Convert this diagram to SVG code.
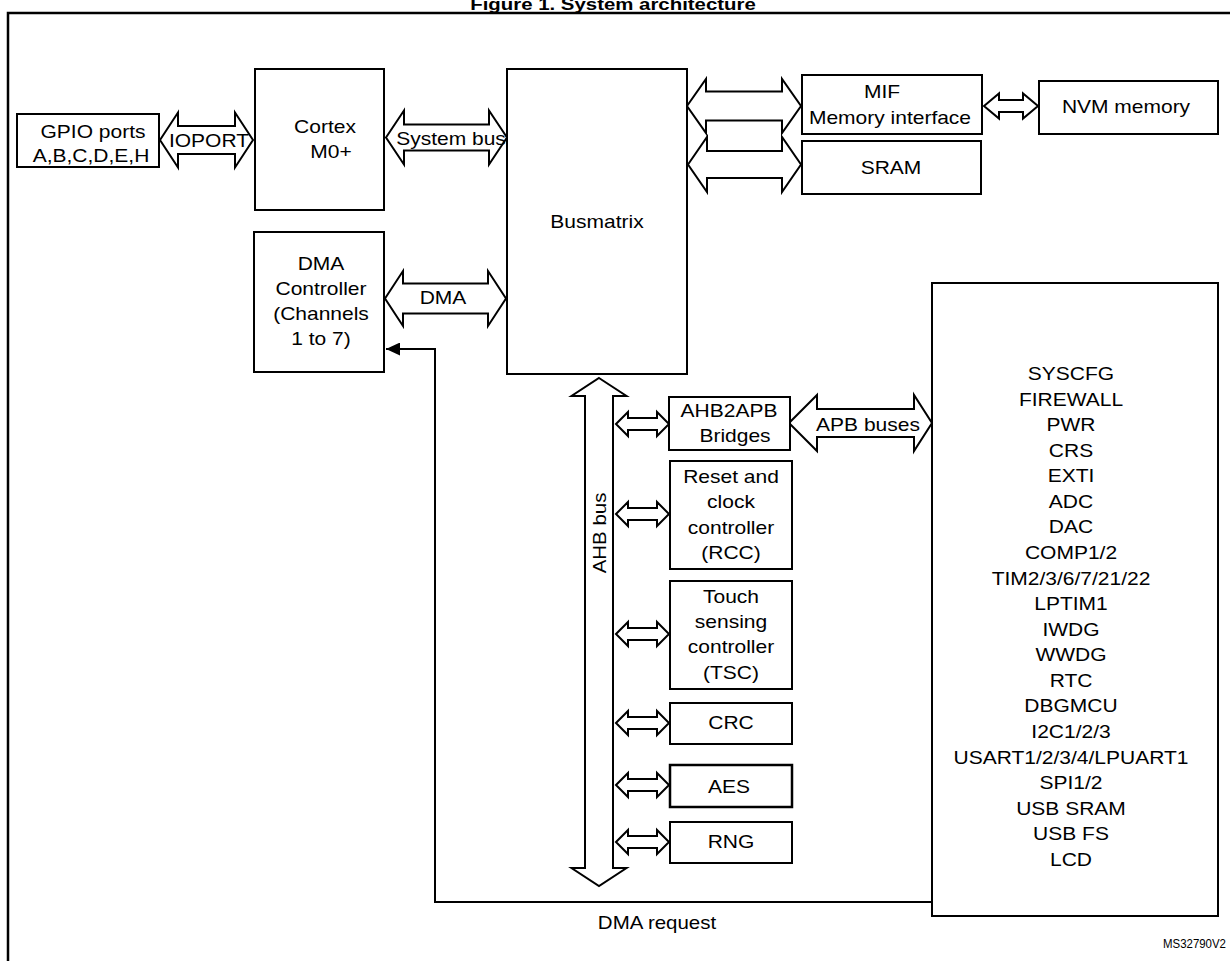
<svg xmlns="http://www.w3.org/2000/svg" xmlns:xlink="http://www.w3.org/1999/xlink" width="1230" height="961" viewBox="0 0 1230 961">
<style>
.box{fill:#fff;stroke:#000;stroke-width:2}
.bus{fill:#fff;stroke:#000;stroke-width:2;stroke-linejoin:miter}
.t{font-family:"Liberation Sans",Arial,sans-serif;font-size:17.5px;text-anchor:middle;fill:#000}
.title{font-family:"Liberation Sans",Arial,sans-serif;font-size:17px;font-weight:bold;text-anchor:middle;fill:#000}
.line{fill:none;stroke:#000;stroke-width:2}
</style>
<defs>
<polygon id="sa" class="bus" points="0,0 12,-12 12,-6 41,-6 41,-12 53,0 41,12 41,6 12,6 12,12"/>
<marker id="ah" markerUnits="userSpaceOnUse" viewBox="0 0 14 13" refX="14" refY="6.5" markerWidth="14" markerHeight="13" orient="auto">
<path d="M0,0 L14,6.5 L0,13 z" fill="#000"/>
</marker>
</defs>
<rect width="1230" height="961" fill="#fff"/>
<text class="title" transform="matrix(1.2 0 0 1 613 0)" y="10">Figure 1. System architecture</text>
<path d="M8,975 V13 H1240" fill="none" stroke="#000" stroke-width="2.5"/>

<g id="connectors">
<polygon class="bus" points="160,140 178,112.5 178,126 235,126 235,112.5 253,140 235,167.5 235,154 178,154 178,167.5"/>
<polygon class="bus" points="386,137.5 404,110.5 404,124.5 489,124.5 489,110.5 507,137.5 489,164.5 489,150.5 404,150.5 404,164.5"/>
<polygon class="bus" points="687,106 706,79 706,91.5 782,91.5 782,79 801,106 782,133 782,120.5 706,120.5 706,133"/>
<polygon class="bus" points="688,164.5 707,137 707,151 782,151 782,137 801,164.5 782,192 782,178 707,178 707,192"/>
<polygon class="bus" points="984,106 999,93.5 999,100 1023,100 1023,93.5 1038,106 1023,118.5 1023,112 999,112 999,118.5"/>
<polygon class="bus" points="385,298.5 403,271 403,283.5 488,283.5 488,271 506,298.5 488,326 488,313.5 403,313.5 403,326"/>
<polygon class="bus" points="789,423 817,395 817,409 914,409 914,395 932,423 914,451 914,437 817,437 817,451"/>
<polygon class="bus" points="599,378 626.5,396 613,396 613,868 626.5,868 599,886 571.5,868 585,868 585,396 571.5,396"/>
<use xlink:href="#sa" x="616" y="424"/>
<use xlink:href="#sa" x="616" y="514"/>
<use xlink:href="#sa" x="616" y="634"/>
<use xlink:href="#sa" x="616" y="723"/>
<use xlink:href="#sa" x="616" y="785"/>
<use xlink:href="#sa" x="616" y="842"/>
<polyline class="line" points="932,902 435,902 435,349 386,349" marker-end="url(#ah)"/>
<text class="t" transform="matrix(1.2 0 0 1 209 0)" y="147">IOPORT</text>
<text class="t" transform="matrix(1.2 0 0 1 451 0)" y="145">System bus</text>
<text class="t" transform="matrix(1.2 0 0 1 443 0)" y="304">DMA</text>
<text class="t" transform="matrix(1.2 0 0 1 868 0)" y="431">APB buses</text>
<text class="t" transform="translate(0 533) rotate(-90) scale(1.17 1)" y="606">AHB bus</text>
<text class="t" transform="matrix(1.17 0 0 1 657 0)" y="929">DMA request</text>
</g>

<g id="gpio">
<rect class="box" x="17" y="114" width="142" height="53"/>
<text class="t" transform="matrix(1.2 0 0 1 93 0)" y="138">GPIO ports</text>
<text class="t" transform="matrix(1.2 0 0 1 91 0)" y="162">A,B,C,D,E,H</text>
</g>

<g id="cortex">
<rect class="box" x="255" y="69" width="129" height="141"/>
<text class="t" transform="matrix(1.2 0 0 1 325 0)" y="133">Cortex</text>
<text class="t" transform="matrix(1.2 0 0 1 331 0)" y="158">M0+</text>
</g>

<g id="dma">
<rect class="box" x="254" y="232" width="130" height="140"/>
<text class="t" transform="matrix(1.2 0 0 1 321 0)" y="270">DMA</text>
<text class="t" transform="matrix(1.2 0 0 1 321 0)" y="295">Controller</text>
<text class="t" transform="matrix(1.2 0 0 1 321 0)" y="320">(Channels</text>
<text class="t" transform="matrix(1.2 0 0 1 321 0)" y="345">1 to 7)</text>
</g>

<g id="busmatrix">
<rect class="box" x="507" y="69" width="180" height="305"/>
<text class="t" transform="matrix(1.2 0 0 1 597 0)" y="228">Busmatrix</text>
</g>

<g id="mif">
<rect class="box" x="802" y="75" width="180" height="59"/>
<text class="t" transform="matrix(1.2 0 0 1 882 0)" y="98">MIF</text>
<text class="t" transform="matrix(1.2 0 0 1 890 0)" y="124">Memory interface</text>
</g>

<g id="sram">
<rect class="box" x="802" y="141" width="179" height="53"/>
<text class="t" transform="matrix(1.2 0 0 1 891 0)" y="174">SRAM</text>
</g>

<g id="nvm">
<rect class="box" x="1039" y="81" width="179" height="53"/>
<text class="t" transform="matrix(1.2 0 0 1 1126 0)" y="113">NVM memory</text>
</g>

<g id="ahb2apb">
<rect class="box" x="669" y="397" width="121" height="53"/>
<text class="t" transform="matrix(1.2 0 0 1 729 0)" y="417">AHB2APB</text>
<text class="t" transform="matrix(1.2 0 0 1 735 0)" y="442">Bridges</text>
</g>

<g id="rcc">
<rect class="box" x="670" y="461" width="122" height="108"/>
<text class="t" transform="matrix(1.2 0 0 1 731 0)" y="483">Reset and</text>
<text class="t" transform="matrix(1.2 0 0 1 731 0)" y="508">clock</text>
<text class="t" transform="matrix(1.2 0 0 1 731 0)" y="534">controller</text>
<text class="t" transform="matrix(1.2 0 0 1 731 0)" y="559">(RCC)</text>
</g>

<g id="tsc">
<rect class="box" x="670" y="581" width="122" height="108"/>
<text class="t" transform="matrix(1.2 0 0 1 731 0)" y="603">Touch</text>
<text class="t" transform="matrix(1.2 0 0 1 731 0)" y="628">sensing</text>
<text class="t" transform="matrix(1.2 0 0 1 731 0)" y="653">controller</text>
<text class="t" transform="matrix(1.2 0 0 1 731 0)" y="679">(TSC)</text>
</g>

<g id="crc">
<rect class="box" x="670" y="703" width="122" height="41"/>
<text class="t" transform="matrix(1.2 0 0 1 731 0)" y="729">CRC</text>
</g>

<g id="aes">
<rect class="box" x="670" y="765" width="122" height="42" style="stroke-width:2.5"/>
<text class="t" transform="matrix(1.2 0 0 1 729 0)" y="793">AES</text>
</g>

<g id="rng">
<rect class="box" x="670" y="822" width="122" height="41"/>
<text class="t" transform="matrix(1.2 0 0 1 731 0)" y="848">RNG</text>
</g>

<g id="peripherals">
<rect class="box" x="932" y="283" width="286" height="633"/>
<text class="t" transform="matrix(1.2 0 0 1 1071 0)" y="380">SYSCFG</text>
<text class="t" transform="matrix(1.2 0 0 1 1071 0)" y="405.6">FIREWALL</text>
<text class="t" transform="matrix(1.2 0 0 1 1071 0)" y="431.2">PWR</text>
<text class="t" transform="matrix(1.2 0 0 1 1071 0)" y="456.7">CRS</text>
<text class="t" transform="matrix(1.2 0 0 1 1071 0)" y="482.3">EXTI</text>
<text class="t" transform="matrix(1.2 0 0 1 1071 0)" y="507.9">ADC</text>
<text class="t" transform="matrix(1.2 0 0 1 1071 0)" y="533.5">DAC</text>
<text class="t" transform="matrix(1.2 0 0 1 1071 0)" y="559.1">COMP1/2</text>
<text class="t" transform="matrix(1.2 0 0 1 1071 0)" y="584.6">TIM2/3/6/7/21/22</text>
<text class="t" transform="matrix(1.2 0 0 1 1071 0)" y="610.2">LPTIM1</text>
<text class="t" transform="matrix(1.2 0 0 1 1071 0)" y="635.8">IWDG</text>
<text class="t" transform="matrix(1.2 0 0 1 1071 0)" y="661.4">WWDG</text>
<text class="t" transform="matrix(1.2 0 0 1 1071 0)" y="686.9">RTC</text>
<text class="t" transform="matrix(1.2 0 0 1 1071 0)" y="712.5">DBGMCU</text>
<text class="t" transform="matrix(1.2 0 0 1 1071 0)" y="738.1">I2C1/2/3</text>
<text class="t" transform="matrix(1.2 0 0 1 1071 0)" y="763.7">USART1/2/3/4/LPUART1</text>
<text class="t" transform="matrix(1.2 0 0 1 1071 0)" y="789.3">SPI1/2</text>
<text class="t" transform="matrix(1.2 0 0 1 1071 0)" y="814.8">USB SRAM</text>
<text class="t" transform="matrix(1.2 0 0 1 1071 0)" y="840.4">USB FS</text>
<text class="t" transform="matrix(1.2 0 0 1 1071 0)" y="866">LCD</text>
</g>

<text x="1226" y="948" style="font-family:'Liberation Sans',Arial,sans-serif;font-size:12.5px;text-anchor:end" textLength="63" lengthAdjust="spacingAndGlyphs">MS32790V2</text>
</svg>
